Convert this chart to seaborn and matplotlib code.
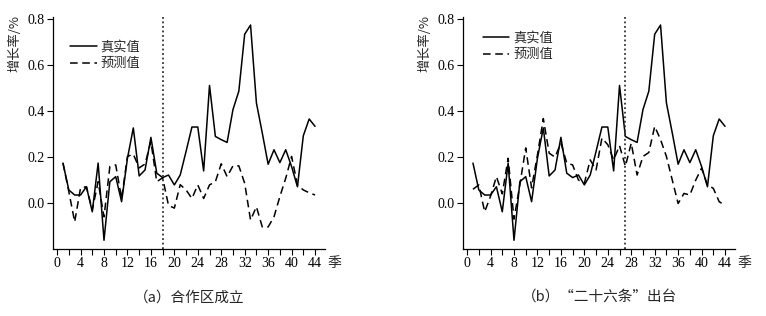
import matplotlib
matplotlib.use("Agg")
import matplotlib.pyplot as plt
import numpy as np
import pandas as pd
import seaborn as sns
from matplotlib.ticker import MultipleLocator, FormatStrFormatter

sns.set_theme(style="ticks")
plt.rcParams['font.family'] = ['Liberation Serif', 'Noto Sans CJK SC', 'DejaVu Sans']
plt.rcParams['axes.unicode_minus'] = False

quarters = list(range(1, 45))

true_vals = [0.174, 0.057, 0.035, 0.035, 0.071, -0.038, 0.174, -0.162, 0.093, 0.115,
             0.006, 0.195, 0.327, 0.118, 0.144, 0.286, 0.130, 0.111, 0.122, 0.079,
             0.122, 0.225, 0.331, 0.331, 0.140, 0.512, 0.290, 0.276, 0.264, 0.407,
             0.487, 0.735, 0.775, 0.436, 0.305, 0.169, 0.232, 0.176, 0.232, 0.159,
             0.071, 0.293, 0.366, 0.334]

pred_a = [0.174, 0.050, -0.082, 0.066, 0.071, -0.030, 0.093, -0.060, 0.159, 0.166,
          0.020, 0.203, 0.213, 0.153, 0.170, 0.268, 0.093, 0.110, -0.010, -0.022,
          0.080, 0.057, 0.020, 0.079, 0.020, 0.079, 0.093, 0.171, 0.115, 0.162,
          0.162, 0.086, -0.074, -0.016, -0.104, -0.104, -0.060, 0.028, 0.108, 0.203,
          0.079, 0.057, 0.045, 0.035]

pred_b = [0.060, 0.079, -0.038, 0.030, 0.115, 0.040, 0.195, -0.070, 0.080, 0.240,
          0.066, 0.210, 0.368, 0.217, 0.200, 0.261, 0.174, 0.166, 0.100, 0.086,
          0.188, 0.144, 0.283, 0.254, 0.188, 0.250, 0.160, 0.261, 0.122, 0.203,
          0.220, 0.334, 0.276, 0.203, 0.100, -0.002, 0.042, 0.035, 0.100, 0.152,
          0.079, 0.064, 0.006, -0.010]

event_q = [18, 27]
captions = ["（a）合作区成立", "（b）“二十六条”出台"]
legend_anchor = [(0.02, 0.95), (0.03, 0.99)]

fig = plt.figure(figsize=(7.66, 3.16), dpi=100)
axes = [fig.add_axes([53 / 766, 67 / 316, 272 / 766, 232 / 316]),
        fig.add_axes([463 / 766, 67 / 316, 272 / 766, 232 / 316])]

for ax, pred, eq, cap, anc in zip(axes, [pred_a, pred_b], event_q, captions, legend_anchor):
    df = pd.DataFrame({"q": quarters, "真实值": true_vals, "预测值": pred})
    sns.lineplot(data=df, x="q", y="真实值", ax=ax, color="black", lw=1.1, label="真实值")
    sns.lineplot(data=df, x="q", y="预测值", ax=ax, color="black", lw=1.1, label="预测值",
                 dashes=False, linestyle=(0, (5, 3)))
    ax.axvline(eq, color="#333333", lw=1.3, linestyle=(0, (1, 1.5)))
    ax.set_xlim(-0.7, 45.7)
    ax.set_ylim(-0.2, 0.81)
    ax.xaxis.set_major_locator(MultipleLocator(4))
    ax.xaxis.set_minor_locator(MultipleLocator(2))
    ax.yaxis.set_major_formatter(FormatStrFormatter("%.1f"))
    ax.set_yticks([0.0, 0.2, 0.4, 0.6, 0.8])
    ax.tick_params(axis="both", which="both", direction="out", length=4, width=0.8,
                   labelsize=10, colors="black", pad=2)
    for s in ["top", "right"]:
        ax.spines[s].set_visible(False)
    for s in ["left", "bottom"]:
        ax.spines[s].set_linewidth(0.9)
        ax.spines[s].set_color("black")
    ax.set_xlabel("")
    ax.set_ylabel("")
    ax.text(-0.14, 1.01, "增长率/%", transform=ax.transAxes, rotation=90,
            ha="center", va="top", fontsize=9.5, family=['Noto Sans CJK SC'])
    ax.text(1.035, -0.06, "季", transform=ax.transAxes, ha="center", va="center",
            fontsize=10, family=['Noto Sans CJK SC'])
    ax.legend(loc="upper left", bbox_to_anchor=anc, frameon=False,
              handlelength=2.0, handletextpad=0.3, labelspacing=0.3,
              prop={"family": ['Noto Sans CJK SC'], "size": 9.5})
    ax.text(0.5, -0.21, cap, transform=ax.transAxes, ha="center", va="center",
            fontsize=10.5, family=['Noto Sans CJK SC'])

fig.savefig("out.png", dpi=100)
